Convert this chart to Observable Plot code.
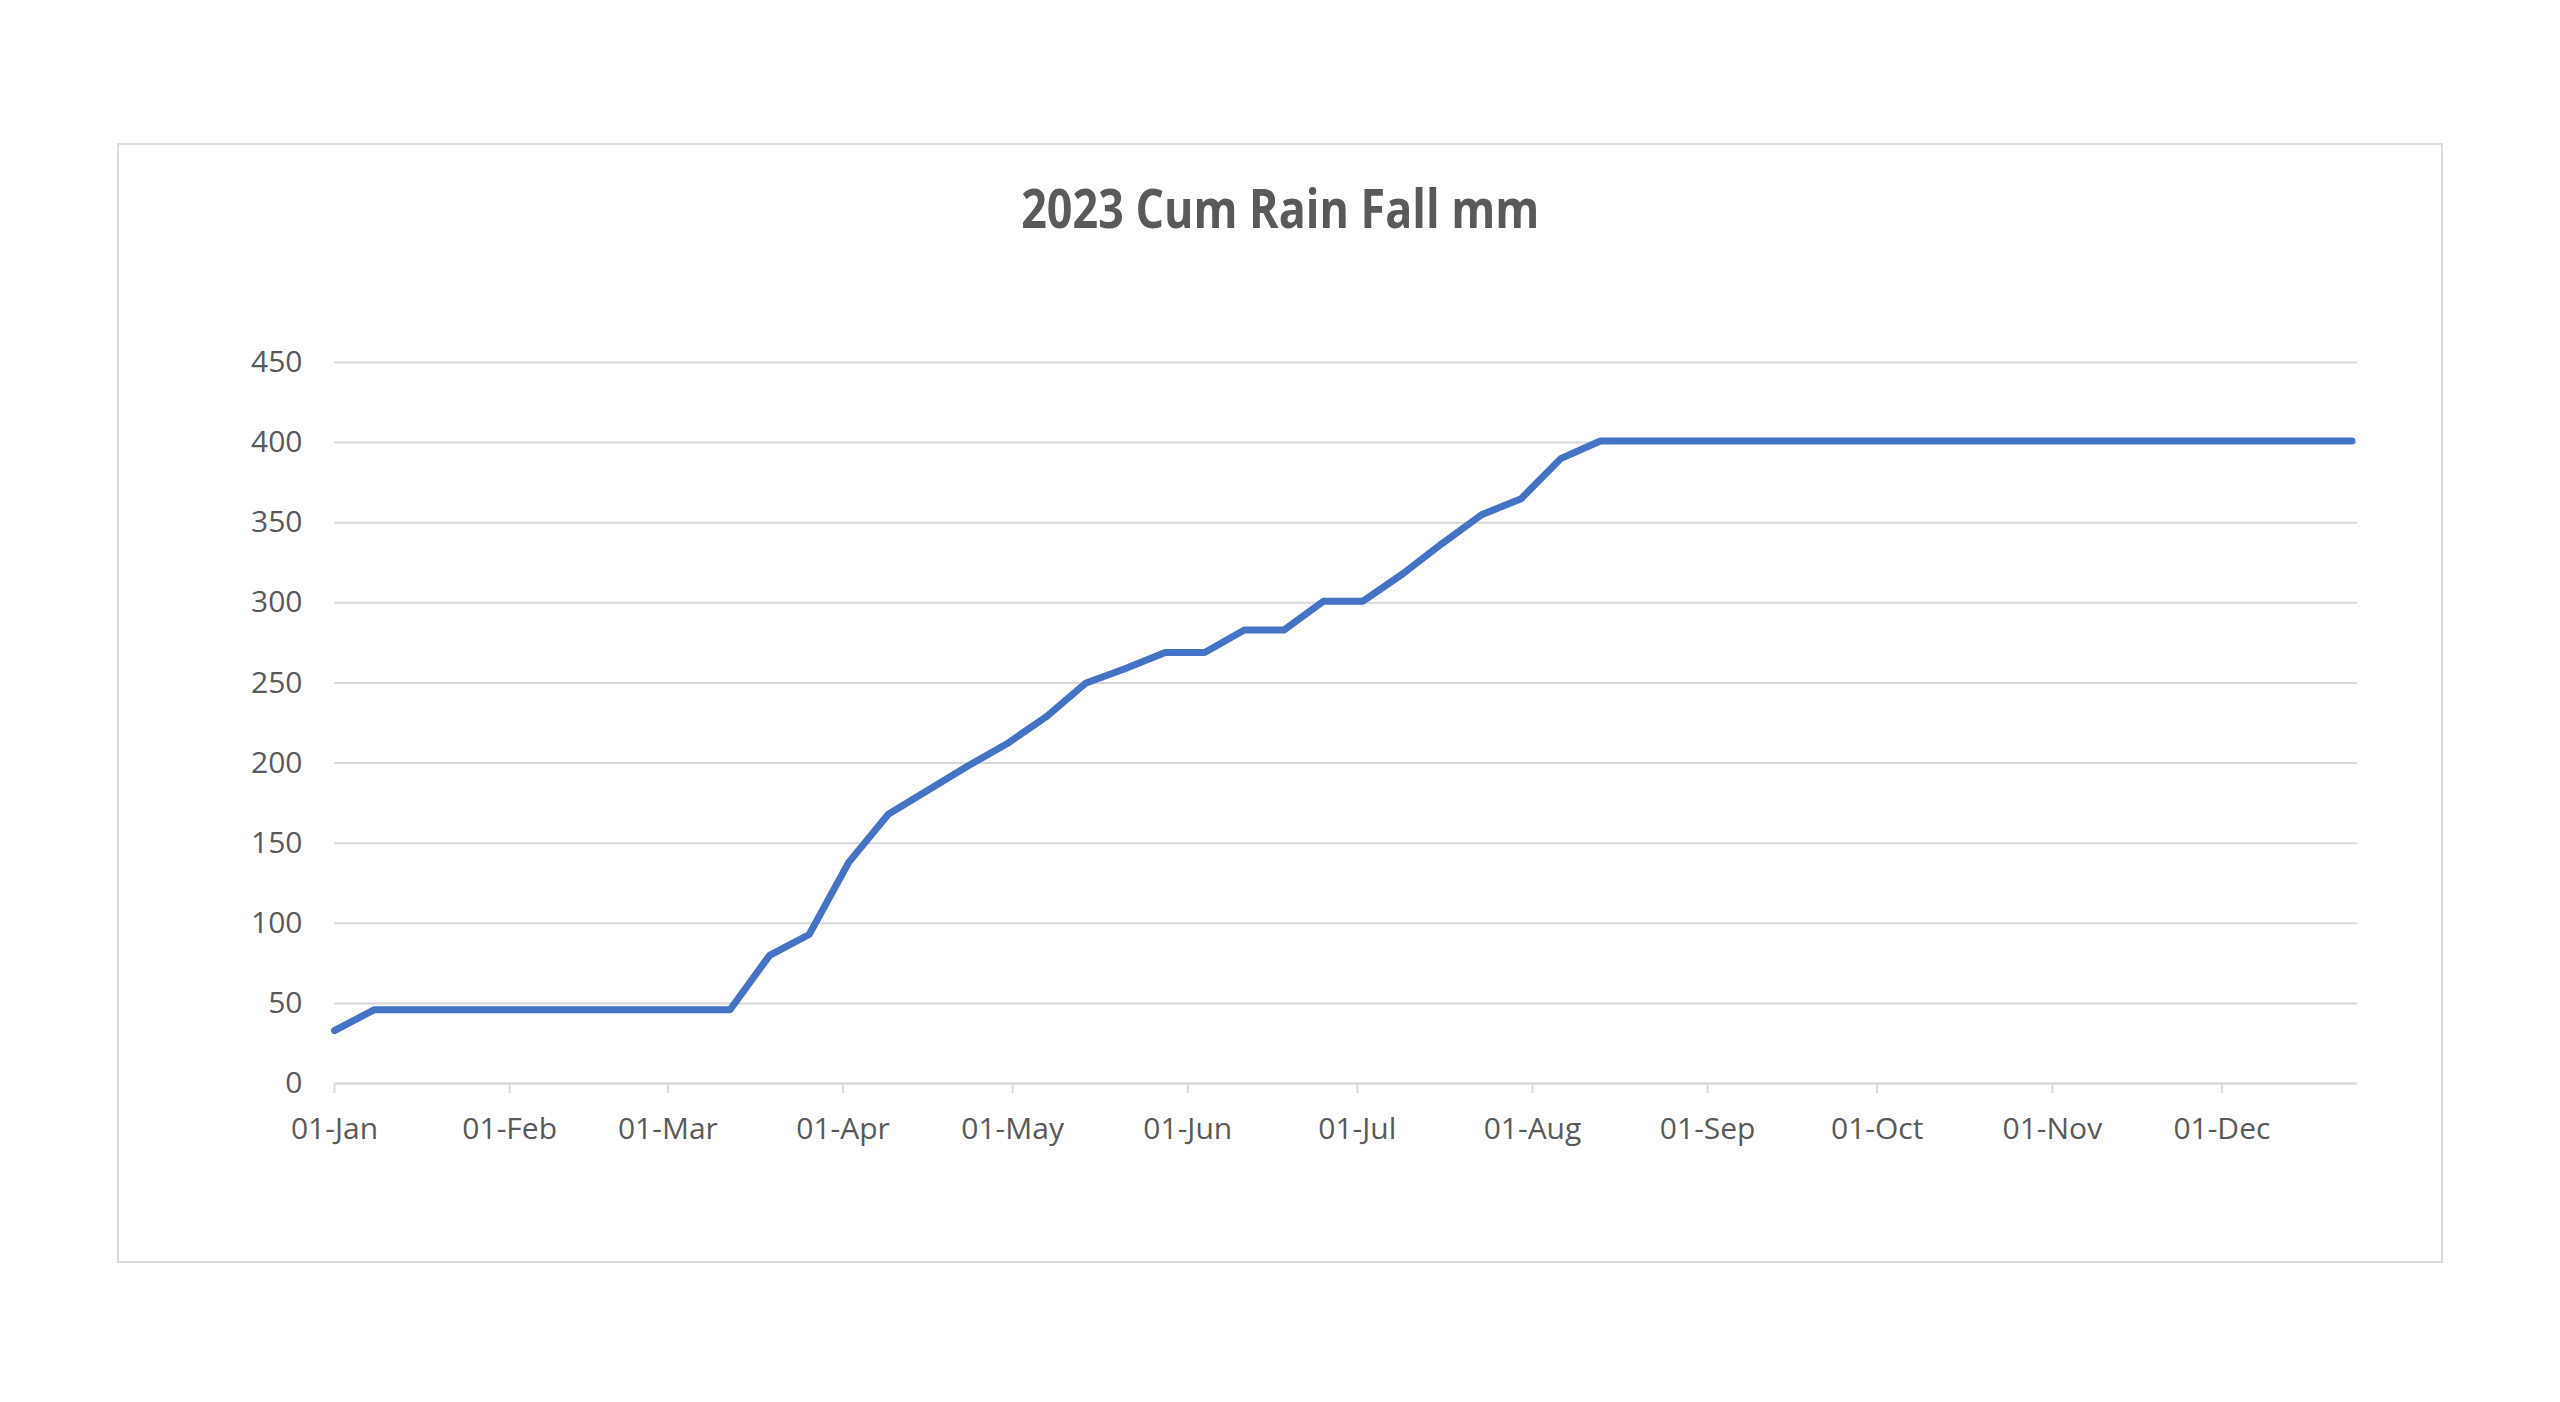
<!DOCTYPE html>
<html>
<head>
<meta charset="utf-8">
<script src="https://cdn.jsdelivr.net/npm/d3@7"></script>
<script src="https://cdn.jsdelivr.net/npm/@observablehq/plot@0.6"></script>
<style>
  html, body { margin: 0; padding: 0; background: #fff; }
  body { width: 2560px; height: 1402px; position: relative; overflow: hidden; }
  .frame {
    position: absolute; left: 117px; top: 143px;
    width: 2326px; height: 1120px; box-sizing: border-box;
    border: 2px solid #d9d9d9;
  }
  .title {
    position: absolute; left: 0; width: 2560px; top: 181px;
    text-align: center; line-height: 1;
    font-family: "Open Sans", sans-serif; font-weight: 700; font-size: 53px;
    color: #595959; white-space: nowrap;
  }
  .title span { display: inline-block; transform-origin: 50% 50%; }
  #chart { position: absolute; left: 0; top: 300px; }
</style>
</head>
<body>
<div class="frame"></div>
<div class="title"><span id="title">2023 Cum Rain Fall mm</span></div>
<div id="chart"></div>
<script>
// Weekly readings (Sundays), cumulative rainfall in mm
const weeks = [
  "2023-01-01","2023-01-08","2023-01-15","2023-01-22","2023-01-29",
  "2023-02-05","2023-02-12","2023-02-19","2023-02-26",
  "2023-03-05","2023-03-12","2023-03-19","2023-03-26",
  "2023-04-02","2023-04-09","2023-04-16","2023-04-23","2023-04-30",
  "2023-05-07","2023-05-14","2023-05-21","2023-05-28",
  "2023-06-04","2023-06-11","2023-06-18","2023-06-25",
  "2023-07-02","2023-07-09","2023-07-16","2023-07-23","2023-07-30",
  "2023-08-06","2023-08-13","2023-08-20","2023-08-27",
  "2023-09-03","2023-09-10","2023-09-17","2023-09-24",
  "2023-10-01","2023-10-08","2023-10-15","2023-10-22","2023-10-29",
  "2023-11-05","2023-11-12","2023-11-19","2023-11-26",
  "2023-12-03","2023-12-10","2023-12-17","2023-12-24"
];
const cumRain = [
  33, 46, 46, 46, 46,
  46, 46, 46, 46,
  46, 46, 80, 93,
  138, 168, 183, 198, 212,
  229, 250, 259, 269,
  269, 283, 283, 301,
  301, 318, 337, 355, 365,
  390, 401, 401, 401,
  401, 401, 401, 401,
  401, 401, 401, 401, 401,
  401, 401, 401, 401,
  401, 401, 401, 401
];
const monthTicks = [
  "2023-01-01","2023-02-01","2023-03-01","2023-04-01","2023-05-01","2023-06-01",
  "2023-07-01","2023-08-01","2023-09-01","2023-10-01","2023-11-01","2023-12-01"
];
const yTicks = [0, 50, 100, 150, 200, 250, 300, 350, 400, 450];
const xStart = "2023-01-01";
const xEnd = "2023-12-25";

const data = weeks.map((d, i) => ({date: new Date(d), rain: cumRain[i]}));

const grid = "#d9d9d9";
const text = "#595959";

const chart = Plot.plot({
  width: 2560,
  height: 900,
  marginLeft: 334,
  marginRight: 203,
  marginTop: 62,
  marginBottom: 117,
  style: {fontFamily: "'Open Sans', sans-serif", fontSize: "30px", color: text, background: "transparent"},
  x: {type: "utc", domain: [new Date(xStart), new Date(xEnd)]},
  y: {domain: [0, 450]},
  marks: [
    Plot.gridY(yTicks, {stroke: grid, strokeOpacity: 1, strokeWidth: 2}),
    Plot.axisY(yTicks, {tickSize: 0, tickPadding: 32, fill: text, label: null}),
    Plot.axisX(monthTicks.map(d => new Date(d)), {
      tickSize: 10, tickPadding: 24, stroke: grid, strokeWidth: 2,
      fill: text, tickFormat: d3.utcFormat("%d-%b"), label: null
    }),
    Plot.ruleY([0], {stroke: grid, strokeWidth: 2}),
    Plot.line(data, {
      x: "date", y: "rain", stroke: "#4472c4", strokeWidth: 7,
      strokeLinecap: "round", strokeLinejoin: "round"
    })
  ]
});
document.getElementById("chart").appendChild(chart);

// squeeze the title to its target width
const t = document.getElementById("title");
const w = t.getBoundingClientRect().width;
if (w > 0) t.style.transform = `scaleX(${518 / w})`;
</script>
</body>
</html>
